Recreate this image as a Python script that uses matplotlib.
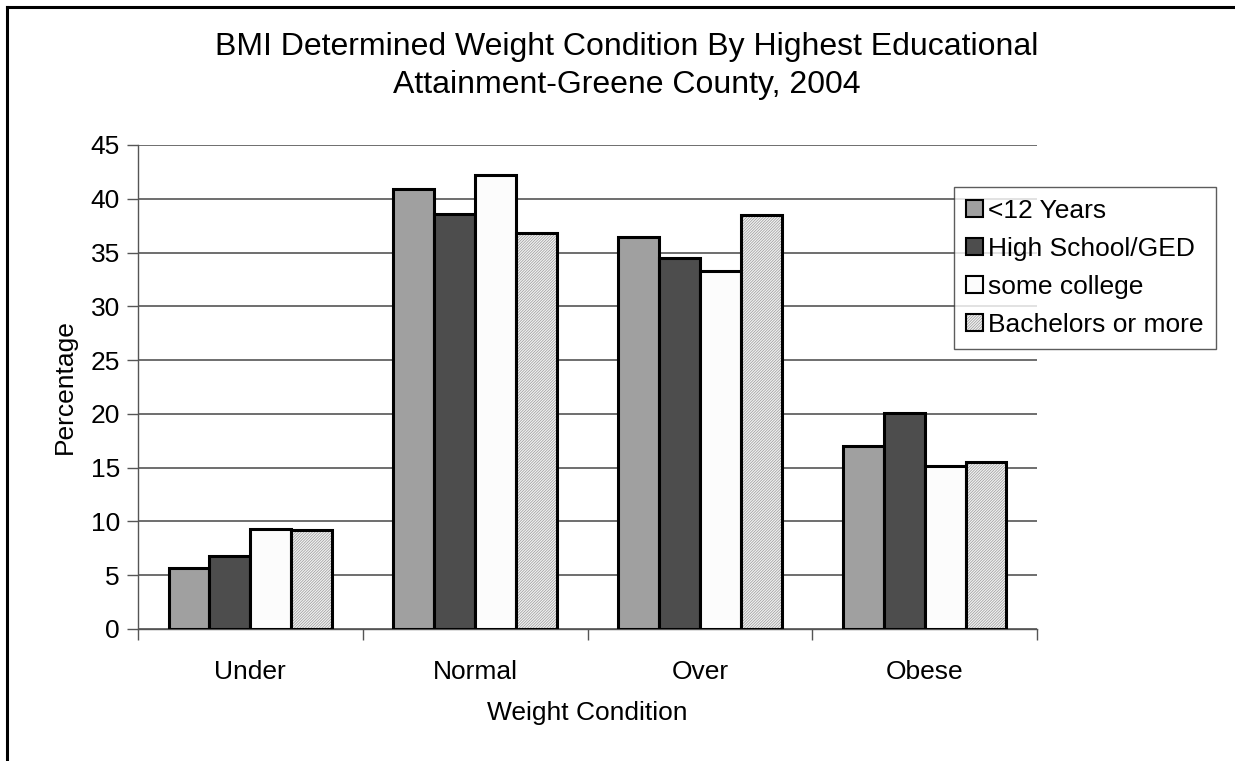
import matplotlib
matplotlib.use("Agg")
from matplotlib import pyplot as plt
from matplotlib.lines import Line2D
import numpy as np

plt.rcParams['font.family'] = ['Liberation Sans', 'DejaVu Sans']
plt.rcParams['hatch.linewidth'] = 0.5

categories = ["Under", "Normal", "Over", "Obese"]
series_names = ["<12 Years", "High School/GED", "some college", "Bachelors or more"]
less_12 = [5.7, 40.9, 36.4, 17.0]
high_school = [6.8, 38.6, 34.5, 20.1]
some_college = [9.3, 42.2, 33.3, 15.2]
bachelors = [9.2, 36.8, 38.5, 15.5]
yticks = [0, 5, 10, 15, 20, 25, 30, 35, 40, 45]

series = [less_12, high_school, some_college, bachelors]
faces = ["#a0a0a0", "#4d4d4d", "#fcfcfc", "#f2f2f2"]
hatches = [None, None, None, "////////////"]

W, H = 1235, 761
fig = plt.figure(figsize=(W / 100, H / 100), dpi=100)
ax = fig.add_axes([138 / W, 1 - 629 / H, (1037 - 138) / W, (629 - 145) / H])

x = np.arange(len(categories))
w = 0.182
for i, vals in enumerate(series):
    bars = ax.bar(x - 1.5 * w + i * w, vals, width=w, color=faces[i],
                  edgecolor="black", linewidth=2.2, hatch=hatches[i],
                  label=series_names[i], zorder=3)
    if hatches[i]:
        for p in bars:
            p._hatch_color = (0.6, 0.6, 0.6, 1)

ax.set_xlim(-0.5, 3.5)
ax.set_ylim(0, 45)
ax.set_yticks(yticks)
ax.set_xticks(x)
ax.set_xticklabels(categories)
ax.set_xticks(np.arange(-0.5, 4.0, 1), minor=True)
ax.tick_params(axis="x", which="major", length=0, pad=36, labelsize=19)
ax.tick_params(axis="x", which="minor", length=8, width=1, color="#555555", direction="out")
ax.tick_params(axis="y", length=8, width=1, color="#555555", labelsize=19, pad=5)
for t in ax.get_xticklabels():
    t.set_va("baseline")
ax.yaxis.grid(True, color="#555555", linewidth=1.2, zorder=0)
ax.set_axisbelow(True)
for s in ["top", "right"]:
    ax.spines[s].set_visible(False)
for s in ["left", "bottom"]:
    ax.spines[s].set_color("#555555")
    ax.spines[s].set_linewidth(1)

ax.set_ylabel("Percentage", fontsize=19, labelpad=10)
fig.text(587 / W, 1 - 720 / H, "Weight Condition", fontsize=19, ha="center", va="baseline")
fig.text(627 / W, 1 - 55 / H, "BMI Determined Weight Condition By Highest Educational",
         ha="center", va="baseline", fontsize=23)
fig.text(627 / W, 1 - 93 / H, "Attainment-Greene County, 2004",
         ha="center", va="baseline", fontsize=23)

leg = fig.legend(loc="upper left", bbox_to_anchor=(954 / W, 1 - 187 / H),
                 fontsize=19, frameon=True, fancybox=False, handlelength=0.65,
                 handleheight=0.65, handletextpad=0.2, borderpad=0.45,
                 labelspacing=0.53, borderaxespad=0)
leg.get_frame().set_edgecolor("#333333")
leg.get_frame().set_linewidth(1)
for h in leg.legend_handles:
    h.set_linewidth(1.5)

fig.add_artist(Line2D([7 / W, 7 / W], [0, 1 - 7 / H], color="black", linewidth=2.2))
fig.add_artist(Line2D([7 / W, 1], [1 - 7 / H, 1 - 7 / H], color="black", linewidth=2.2))

fig.savefig("out.png", dpi=100)
